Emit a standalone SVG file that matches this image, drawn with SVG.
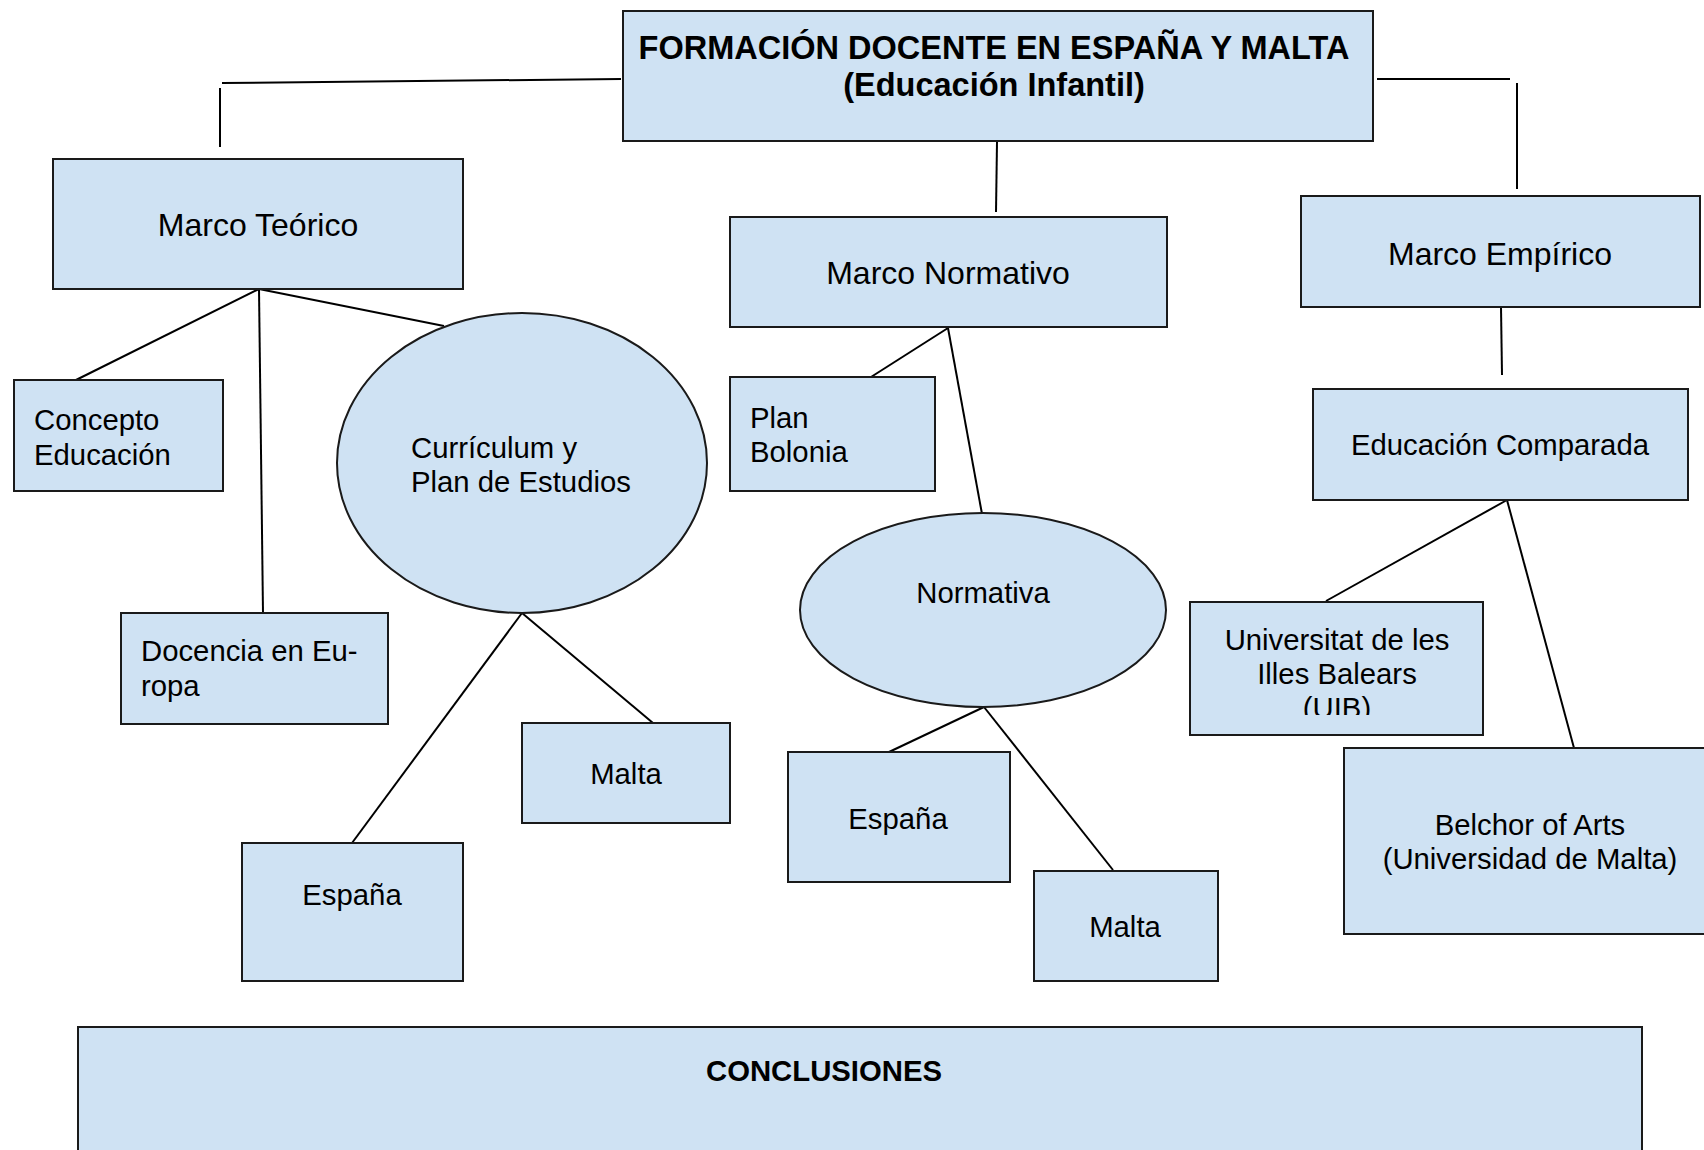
<svg xmlns="http://www.w3.org/2000/svg" width="1704" height="1150" viewBox="0 0 1704 1150">
<defs>
<style>
.n{fill:#cfe2f3;stroke:#1a1a1a;stroke-width:2}
.t{font-family:"Liberation Sans",Arial,sans-serif;font-size:29.3px;fill:#000}
.big{font-size:32px}
.tt{font-size:32.5px}
.b{font-weight:bold}
.m{text-anchor:middle}
.c line{stroke:#000;stroke-width:2;stroke-linecap:butt}
</style>
<clipPath id="uibclip"><rect x="1190" y="602" width="293" height="113"/></clipPath>
</defs>
<rect width="1704" height="1150" fill="#fff"/>
<g class="c" id="connectors">
<line x1="621" y1="79" x2="222" y2="83"/>
<line x1="220" y1="88" x2="220" y2="147"/>
<line x1="997" y1="142" x2="996" y2="212"/>
<line x1="1377" y1="79" x2="1510" y2="79"/>
<line x1="1517" y1="83" x2="1517" y2="189"/>
<line x1="259" y1="289" x2="76" y2="380"/>
<line x1="259" y1="289" x2="263" y2="613"/>
<line x1="259" y1="289" x2="444" y2="326"/>
<line x1="522" y1="613" x2="352" y2="843"/>
<line x1="522" y1="613" x2="653" y2="723"/>
<line x1="948" y1="328" x2="871" y2="377"/>
<line x1="948" y1="328" x2="982" y2="514"/>
<line x1="984" y1="707" x2="889" y2="752"/>
<line x1="984" y1="707" x2="1113" y2="870"/>
<line x1="1501" y1="307" x2="1502" y2="375"/>
<line x1="1507" y1="500" x2="1326" y2="601"/>
<line x1="1507" y1="500" x2="1574" y2="748"/>
</g>
<g id="title">
<rect class="n" x="623" y="11" width="750" height="130"/>
<text class="t tt b m" x="994" y="59">FORMACIÓN DOCENTE EN ESPAÑA Y MALTA</text>
<text class="t tt b m" x="994" y="96">(Educación Infantil)</text>
</g>
<g id="marco-teorico">
<rect class="n" x="53" y="159" width="410" height="130"/>
<text class="t big m" x="258" y="236">Marco Teórico</text>
</g>
<g id="concepto-educacion">
<rect class="n" x="14" y="380" width="209" height="111"/>
<text class="t" x="34" y="430">Concepto</text>
<text class="t" x="34" y="465">Educación</text>
</g>
<g id="curriculum">
<ellipse class="n" cx="522" cy="463" rx="185" ry="150"/>
<text class="t" x="411" y="458">Currículum y</text>
<text class="t" x="411" y="492">Plan de Estudios</text>
</g>
<g id="docencia-europa">
<rect class="n" x="121" y="613" width="267" height="111"/>
<text class="t" x="141" y="661">Docencia en Eu-</text>
<text class="t" x="141" y="696">ropa</text>
</g>
<g id="malta-curriculum">
<rect class="n" x="522" y="723" width="208" height="100"/>
<text class="t m" x="626" y="784">Malta</text>
</g>
<g id="espana-curriculum">
<rect class="n" x="242" y="843" width="221" height="138"/>
<text class="t m" x="352" y="905">España</text>
</g>
<g id="marco-normativo">
<rect class="n" x="730" y="217" width="437" height="110"/>
<text class="t big m" x="948" y="284">Marco Normativo</text>
</g>
<g id="plan-bolonia">
<rect class="n" x="730" y="377" width="205" height="114"/>
<text class="t" x="750" y="428">Plan</text>
<text class="t" x="750" y="462">Bolonia</text>
</g>
<g id="normativa">
<ellipse class="n" cx="983" cy="610" rx="183" ry="97"/>
<text class="t m" x="983" y="603">Normativa</text>
</g>
<g id="espana-normativa">
<rect class="n" x="788" y="752" width="222" height="130"/>
<text class="t m" x="898" y="829">España</text>
</g>
<g id="malta-normativa">
<rect class="n" x="1034" y="871" width="184" height="110"/>
<text class="t m" x="1125" y="937">Malta</text>
</g>
<g id="marco-empirico">
<rect class="n" x="1301" y="196" width="399" height="111"/>
<text class="t big m" x="1500" y="265">Marco Empírico</text>
</g>
<g id="educacion-comparada">
<rect class="n" x="1313" y="389" width="375" height="111"/>
<text class="t m" x="1500" y="455">Educación Comparada</text>
</g>
<g id="uib">
<rect class="n" x="1190" y="602" width="293" height="133"/>
<g clip-path="url(#uibclip)">
<text class="t m" x="1337" y="650">Universitat de les</text>
<text class="t m" x="1337" y="684">Illes Balears</text>
<text class="t m" x="1337" y="718">(UIB)</text>
</g>
</g>
<g id="belchor">
<rect class="n" x="1344" y="748" width="380" height="186"/>
<text class="t m" x="1530" y="835">Belchor of Arts</text>
<text class="t m" x="1530" y="869">(Universidad de Malta)</text>
</g>
<g id="conclusiones">
<rect class="n" x="78" y="1027" width="1564" height="140"/>
<text class="t b m" x="824" y="1081">CONCLUSIONES</text>
</g>
</svg>
